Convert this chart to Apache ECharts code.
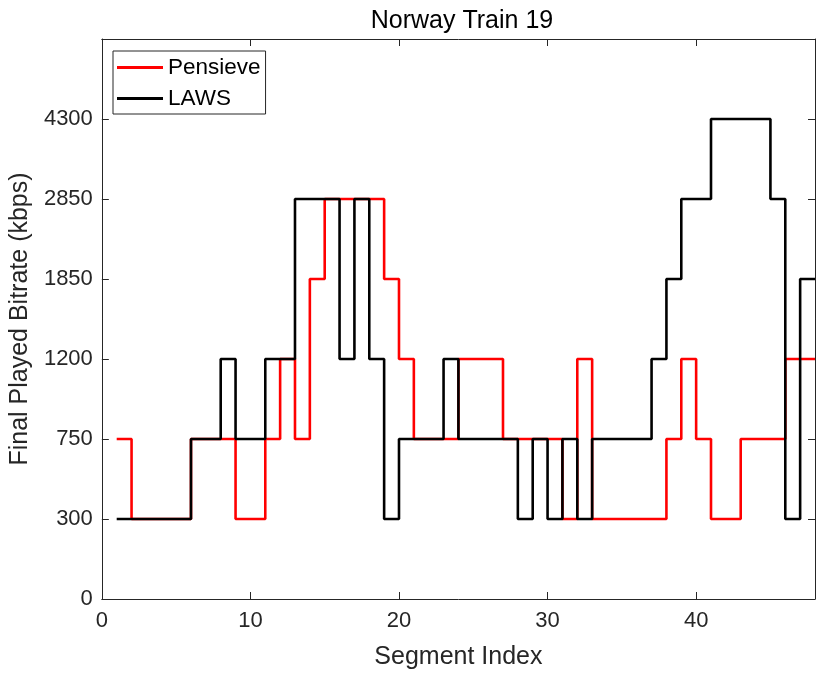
<!DOCTYPE html>
<html>
<head>
<meta charset="utf-8">
<script src="https://cdn.jsdelivr.net/npm/echarts@6/dist/echarts.min.js"></script>
<style>html,body{margin:0;padding:0;background:#fff;}#chart{width:821px;height:675px;}</style>
</head>
<body>
<div id="chart"></div>
<script>
// Bitrate levels (y-axis tick labels, evenly spaced); last empty slot is the top of the axes
const levelLabels = ['0', '300', '750', '1200', '1850', '2850', '4300', ''];
const xTicks = [0, 10, 20, 30, 40];
// Final played bitrate per segment (segments 1..47; stairs end at 48)
const pensieve = [750, 300, 300, 300, 300, 750, 750, 750, 300, 300,
  750, 1200, 750, 1850, 2850, 2850, 2850, 2850, 1850, 1200,
  750, 750, 750, 1200, 1200, 1200, 750, 750, 750, 750,
  300, 1200, 300, 300, 300, 300, 300, 750, 1200, 750,
  300, 300, 750, 750, 750, 1200, 1200];
const laws = [300, 300, 300, 300, 300, 750, 750, 1200, 750, 750,
  1200, 1200, 2850, 2850, 2850, 1200, 2850, 1200, 300, 750,
  750, 750, 1200, 750, 750, 750, 750, 300, 750, 300,
  750, 300, 750, 750, 750, 750, 1200, 1850, 2850, 2850,
  4300, 4300, 4300, 4300, 2850, 300, 1850];

// bitrate -> evenly spaced level position on the axis
function stairs(vals) {
  const pts = vals.map((v, i) => [i + 1, levelLabels.indexOf(String(v))]);
  pts.push([vals.length + 1, levelLabels.indexOf(String(vals[vals.length - 1]))]);
  return pts;
}

const FONT = 'Liberation Sans, Arial, Helvetica, sans-serif';
const AX = '#262626';
const tick = {show: true, inside: true, length: 7, lineStyle: {color: AX, width: 1}};
const line = {show: true, onZero: false, lineStyle: {color: AX, width: 1}};
const chart = echarts.init(document.getElementById('chart'), null, {renderer: 'canvas'});
chart.setOption({
  animation: false,
  backgroundColor: '#fff',
  title: {
    text: 'Norway Train 19', left: 457, textAlign: 'center', top: 4,
    textStyle: {fontFamily: FONT, fontSize: 25, fontWeight: 'normal', color: '#000'}
  },
  legend: {
    left: 113, top: 51, orient: 'vertical',
    data: ['Pensieve', 'LAWS'],
    icon: 'rect', itemWidth: 46, itemHeight: 3, itemGap: 8,
    padding: [5, 5, 4, 4],
    borderColor: AX, borderWidth: 1, backgroundColor: '#fff',
    textStyle: {fontFamily: FONT, fontSize: 22.5, color: '#000'}
  },
  grid: {left: 99.5, right: 6, top: 39, bottom: 74},
  xAxis: [{
    type: 'value', min: 0, max: 48, interval: 10,
    name: 'Segment Index', nameLocation: 'middle', nameGap: 46,
    nameTextStyle: {fontFamily: FONT, fontSize: 25, color: AX},
    axisLine: line, axisTick: tick,
    axisLabel: {fontFamily: FONT, fontSize: 22, color: AX, margin: 11,
      formatter: v => xTicks.includes(v) ? String(v) : ''},
    splitLine: {show: false}
  }, {
    type: 'value', min: 0, max: 48, interval: 10, position: 'top',
    axisLine: line, axisTick: tick,
    axisLabel: {show: false}, splitLine: {show: false}
  }],
  yAxis: [{
    type: 'value', min: 0, max: 7, interval: 1,
    name: 'Final Played Bitrate (kbps)', nameLocation: 'middle', nameGap: 57,
    nameTextStyle: {fontFamily: FONT, fontSize: 25, color: AX},
    axisLine: line, axisTick: tick,
    axisLabel: {fontFamily: FONT, fontSize: 22, color: AX, margin: 9,
      formatter: v => levelLabels[v] || ''},
    splitLine: {show: false}
  }, {
    type: 'value', min: 0, max: 7, interval: 1, position: 'right',
    axisLine: line, axisTick: tick,
    axisLabel: {show: false}, splitLine: {show: false}
  }],
  series: [{
    name: 'Pensieve', type: 'line', step: 'end', showSymbol: false,
    data: stairs(pensieve), color: '#ff0000',
    lineStyle: {color: '#ff0000', width: 2.6}
  }, {
    name: 'LAWS', type: 'line', step: 'end', showSymbol: false,
    data: stairs(laws), color: '#000000',
    lineStyle: {color: '#000000', width: 2.6}
  }]
});
</script>
</body>
</html>
